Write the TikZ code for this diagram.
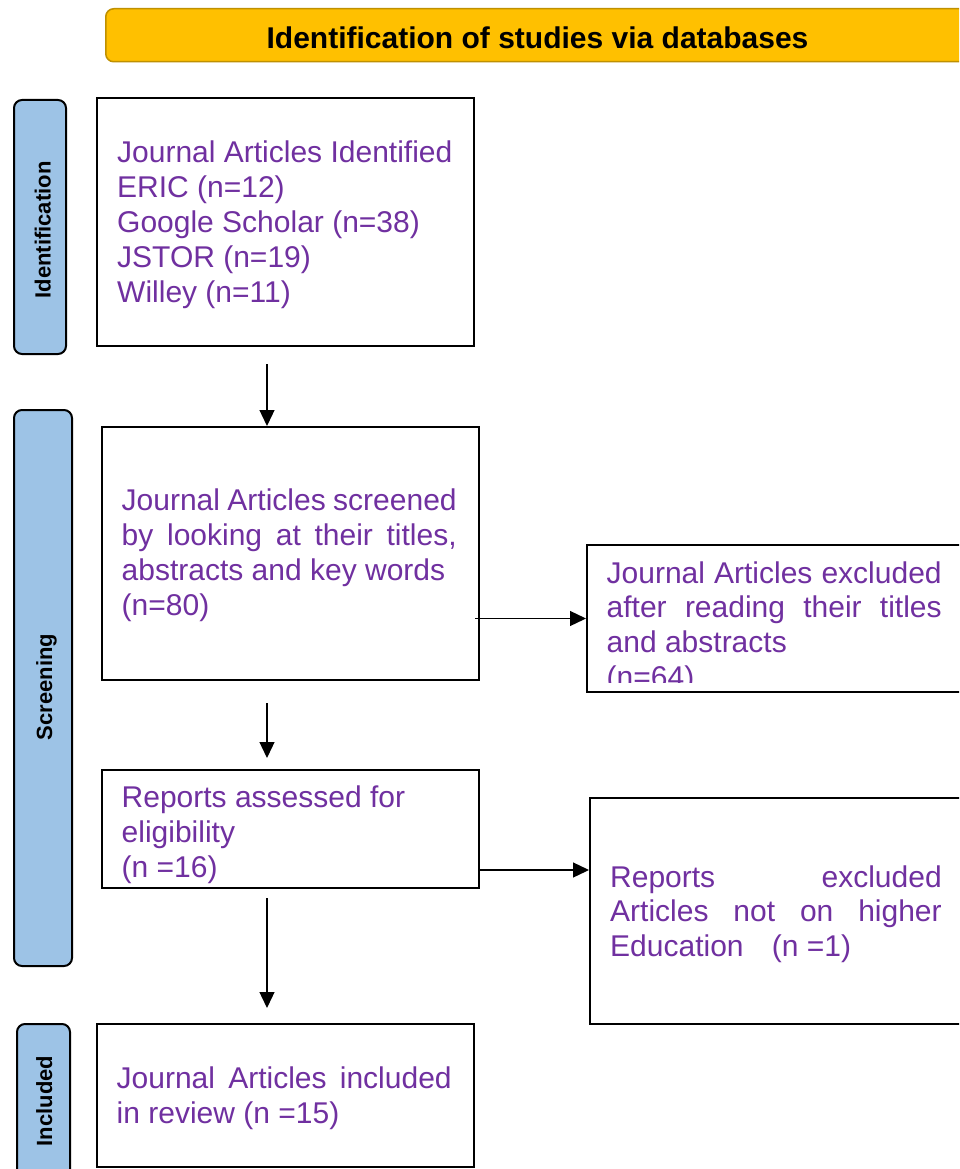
\documentclass[tikz,border=0pt]{standalone}
\usepackage{fontspec}
\setmainfont{Liberation Sans}
\usetikzlibrary{arrows.meta}
\definecolor{txtpurple}{HTML}{7030A0}
\definecolor{barblue}{HTML}{9DC3E6}
\definecolor{goldfill}{HTML}{FFC000}
\definecolor{golddark}{HTML}{BF9000}
\tikzset{
  box/.style={draw=black, line width=2pt, fill=white, anchor=north west, inner sep=0pt},
  sidebar/.style={draw=black, line width=2pt, fill=barblue, rounded corners=8pt, anchor=north west, inner sep=0pt},
  sidelabel/.style={font=\fontsize{22}{26}\selectfont\bfseries, rotate=90, anchor=base, inner sep=0pt},
  txt/.style={anchor=base west, inner sep=0pt, text=txtpurple, font=\fontsize{30}{34.8}\selectfont},
  arr/.style={line width=1.3pt, -{Triangle[length=16pt,width=15pt]}},
}
\newcommand{\jl}[2]{\hbox to #1{#2}}
\begin{document}
\begin{tikzpicture}[x=1pt,y=-1pt]
\clip (0,0) rectangle (959,1169);
\fill[white] (0,0) rectangle (959,1169);

% title bar
\node[draw=golddark, line width=1.5pt, fill=goldfill, rounded corners=8pt, anchor=north west,
      minimum width=870pt, minimum height=53pt, inner sep=0pt] (title) at (105,8) {};
\node[anchor=base, inner sep=0pt, font=\fontsize{30}{34}\selectfont\bfseries] (titletxt) at (537.5,48.5) {Identification of studies via databases};

% side bars
\node[sidebar, minimum width=52pt, minimum height=254pt] (s1) at (13,99) {};
\node[sidelabel] (l1) at (50.5,230) {Identification};
\node[sidebar, minimum width=58pt, minimum height=556pt] (s2) at (13,409) {};
\node[sidelabel] (l2) at (52,687) {Screening};
\node[sidebar, minimum width=53pt, minimum height=190pt] (s3) at (16,1023) {};
\node[sidelabel] (l3) at (52,1101) {Included};

% boxes
\node[box, minimum width=377pt, minimum height=248pt] (b1) at (96,97) {};
\node[box, minimum width=377pt, minimum height=253pt] (b2) at (101,426) {};
\node[box, minimum width=390pt, minimum height=147pt] (b3) at (586,544) {};
\node[box, minimum width=377pt, minimum height=118pt] (b4) at (101,769) {};
\node[box, minimum width=390pt, minimum height=226pt] (b5) at (589,797) {};
\node[box, minimum width=377pt, minimum height=143pt] (b6) at (96,1023) {};

% texts
\node[txt] (t1) at (117,162.5) {\vtop{\baselineskip=34.9pt
  \hbox{Journal Articles Identified}
  \hbox{ERIC (n=12)}
  \hbox{Google Scholar (n=38)}
  \hbox{JSTOR (n=19)}
  \hbox{Willey (n=11)}}};
\node[txt] (t2) at (121.5,510.5) {\vtop{\baselineskip=34.9pt
  \jl{335pt}{Journal Articles screened}
  \jl{335pt}{by looking at their titles,}
  \hbox{abstracts and key words}
  \hbox{(n=80)}}};
\begin{scope}
  \clip (586,544) rectangle (976,682);
  \node[txt] (t3) at (606.5,583) {\vtop{\baselineskip=34.8pt
    \jl{335pt}{Journal Articles excluded}
    \jl{335pt}{after reading their titles}
    \hbox{and abstracts}
    \hbox{(n=64)}}};
\end{scope}
\node[txt] (t4) at (121.5,807.5) {\vtop{\baselineskip=34.8pt
  \hbox{Reports assessed for}
  \hbox{eligibility}
  \hbox{(n =16)}}};
\node[txt] (t5) at (610,887) {\vtop{\baselineskip=34.8pt
  \jl{331.5pt}{Reports excluded}
  \jl{331.5pt}{Articles not on higher}
  \hbox{Education\hspace*{20pt} (n =1)}}};
\node[txt] (t6) at (116.5,1088) {\vtop{\baselineskip=35.5pt
  \jl{335pt}{Journal Articles included}
  \hbox{in review (n =15)}}};

% connectors
\coordinate (a1) at (267,364);
\draw[arr] (a1) -- (a1 |- b2.north);
\coordinate (a2s) at (267,703);
\coordinate (a2e) at (267,758);
\draw[arr] (a2s) -- (a2e);
\coordinate (a3s) at (267,898);
\coordinate (a3e) at (267,1008);
\draw[arr] (a3s) -- (a3e);
\draw[arr] ([xshift=-5pt]b2.east |- b3.west) -- (b3.west);
\coordinate (h2) at (530,870);
\draw[arr] (b4.east |- h2) -- (b5.west |- h2);
\end{tikzpicture}
\end{document}
